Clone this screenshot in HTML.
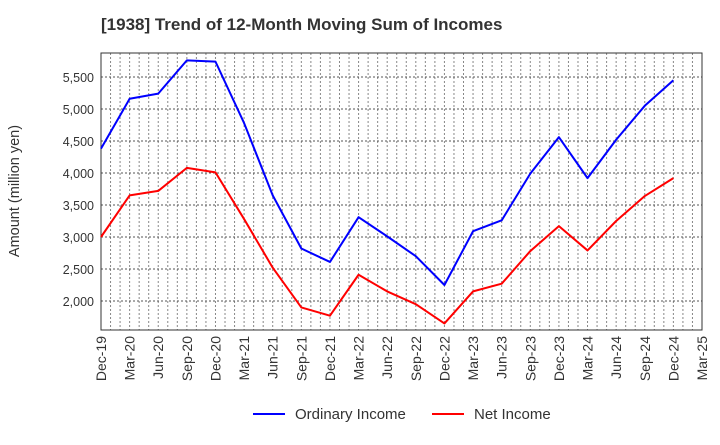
<!DOCTYPE html>
<html><head><meta charset="utf-8"><style>
body{margin:0;background:#fff;font-family:"Liberation Sans",sans-serif}
</style></head><body>
<svg id="c" width="720" height="440" xmlns="http://www.w3.org/2000/svg">
<text x="101" y="30" font-size="17" font-weight="bold" fill="#333">[1938]  Trend of 12-Month Moving Sum of Incomes</text>
<g id="grid"></g><g id="axes"></g><g id="series"></g>
<text transform="translate(19,191) rotate(-90)" text-anchor="middle" font-size="14.5" fill="#333">Amount (million yen)</text>
<g>
<line x1="253" y1="414" x2="285" y2="414" stroke="#0000ff" stroke-width="2"/>
<text x="295" y="419" font-size="15" fill="#333">Ordinary Income</text>
<line x1="432" y1="414" x2="464" y2="414" stroke="#ff0000" stroke-width="2"/>
<text x="474" y="419" font-size="15" fill="#333">Net Income</text>
</g>
</svg>
<script>
const categories=["Dec-19","Mar-20","Jun-20","Sep-20","Dec-20","Mar-21","Jun-21","Sep-21","Dec-21","Mar-22","Jun-22","Sep-22","Dec-22","Mar-23","Jun-23","Sep-23","Dec-23","Mar-24","Jun-24","Sep-24","Dec-24","Mar-25"];
const ordinaryIncome=[4380,5160,5240,5760,5740,4780,3650,2820,2610,3310,3010,2700,2250,3090,3260,3990,4560,3920,4520,5050,5450];
const netIncome=[3000,3650,3720,4080,4010,3280,2520,1900,1770,2410,2150,1950,1650,2150,2270,2780,3170,2790,3250,3640,3920];
const yTicks=[2000,2500,3000,3500,4000,4500,5000,5500];
const L=101,R=702,T=53,B=330;
const NS="http://www.w3.org/2000/svg";
const step=(R-L)/(categories.length-1);
const x=i=>L+i*step;
const y=v=>301-(v-2000)*0.064;
function mk(tag,attrs,parent){const e=document.createElementNS(NS,tag);for(const k in attrs)e.setAttribute(k,attrs[k]);parent.appendChild(e);return e;}
const grid=document.getElementById('grid'),axes=document.getElementById('axes'),ser=document.getElementById('series');
for(let m=1;m<(categories.length-1)*3;m++){const xx=L+m*step/3;
 const g=mk('line',{x1:xx,x2:xx,y1:T,y2:B,stroke:'#888','stroke-dasharray':'2,2','stroke-width':1},grid);
 
 }
yTicks.forEach(v=>{
 const g=mk('line',{x1:L,x2:R,y1:y(v),y2:y(v),stroke:'#555','stroke-dasharray':'2,2','stroke-width':1},grid);
 
 
 const t=mk('text',{x:L-7,y:y(v)+5,'text-anchor':'end','font-size':12.5,fill:'#333'},axes);
 t.textContent=v.toLocaleString('en-US');
 
 
});
const box=mk('rect',{x:L,y:T,width:R-L,height:B-T,fill:'none',stroke:'#333','stroke-width':1},axes);


categories.forEach((c,i)=>{
 const t=mk('text',{transform:`translate(${x(i)+5},${B+6}) rotate(-90)`,'text-anchor':'end','font-size':14,fill:'#333'},axes);
 t.textContent=c;
 
 
});
function line(data,color,name){
 const p=mk('polyline',{points:data.map((v,i)=>x(i)+','+y(v)).join(' '),fill:'none',stroke:color,'stroke-width':2,'stroke-linejoin':'round'},ser);
 
 
}
line(ordinaryIncome,'#0000ff','ordinary-income-line');
line(netIncome,'#ff0000','net-income-line');
</script>
</body></html>
